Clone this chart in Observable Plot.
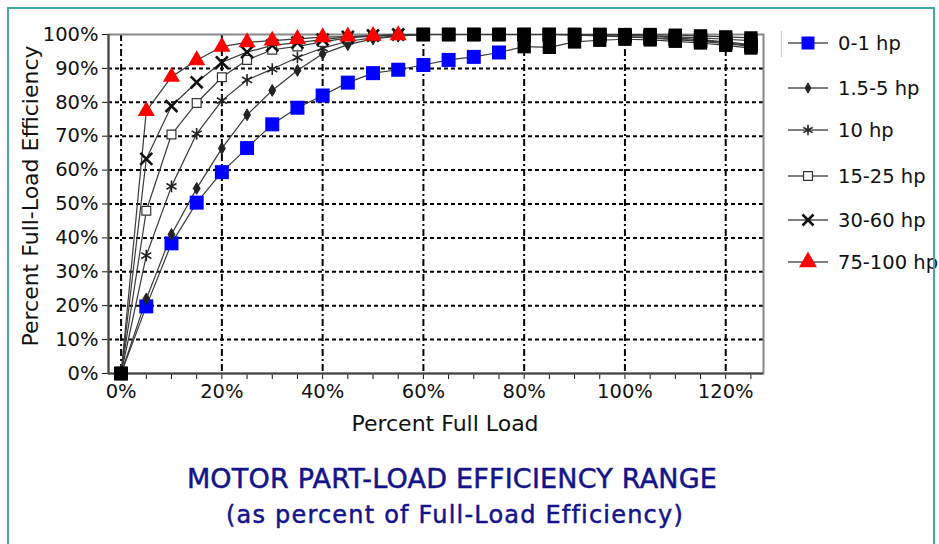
<!DOCTYPE html>
<html><head><meta charset="utf-8">
<script src="https://cdn.jsdelivr.net/npm/d3@7"></script>
<script src="https://cdn.jsdelivr.net/npm/@observablehq/plot@0.6"></script>
<style>
body{margin:0;background:#fff;width:939px;height:544px;overflow:hidden;position:relative;font-family:"DejaVu Sans",sans-serif;}
#chart{position:absolute;left:0;top:0}
#border{position:absolute;left:7px;top:7px;width:924px;height:620px;border:2.5px solid #4aa5a5;pointer-events:none}
#legend{position:absolute;left:0;top:0;width:939px;height:300px}
.lg{position:absolute;height:30px;display:flex;align-items:center;font-size:19.5px;color:#111;white-space:nowrap}
.lg svg{margin-right:8px}
#legendEdge{position:absolute;left:781px;top:31px;width:0;height:26px;border-left:1.5px solid #ccc}
#ylab{position:absolute;left:31px;top:196px;transform:translate(-50%,-50%) rotate(-90deg);font-size:22px;color:#111;white-space:nowrap;line-height:1}
.title{position:absolute;transform:translateX(-50%);white-space:nowrap;color:#14148a;line-height:1;-webkit-text-stroke:0.5px #14148a}
#t1{left:452px;top:465px;font-size:27px;letter-spacing:0.2px}
#t2{left:455px;top:503px;font-size:24px;letter-spacing:1.2px}
</style></head><body>
<div id="chart"></div>
<div id="ylab">Percent Full-Load Efficiency</div>
<div id="legend"><div id="legendEdge"></div></div>
<div class="title" id="t1">MOTOR PART-LOAD EFFICIENCY RANGE</div>
<div class="title" id="t2">(as percent of Full-Load Efficiency)</div>
<div id="border"></div>
<script>
// ---- data ----
const loads = [0,5,10,15,20,25,30,35,40,45,50,55,60,65,70,75,80,85,90,95,100,105,110,115,120,125];
const seriesNames = ["0-1 hp","1.5-5 hp","10 hp","15-25 hp","30-60 hp","75-100 hp"];
const eff_0_1   = [0,19.8,38.4,50.4,59.4,66.5,73.5,78.4,82.0,85.8,88.6,89.6,91.0,92.5,93.4,94.7,96.4,96.2,97.8,98.3,98.6,98.4,98.0,97.5,96.8,96.0];
const eff_1_5_5 = [0,22.0,41.0,54.6,66.4,76.3,83.5,89.4,94.3,97.0,98.7,99.5,100,100,100,100,100,100,100,100,99.8,99.5,99.0,98.5,97.8,97.0];
const eff_10    = [0,34.8,55.2,70.7,80.5,86.6,89.8,93.2,96.0,98.0,99.0,99.6,100,100,100,100,100,100,99.8,99.6,99.3,99.0,98.6,98.2,97.6,96.8];
const eff_15_25 = [0,48.0,70.5,79.8,87.4,92.5,95.5,96.5,97.8,99.0,99.5,100,100,100,100,100,100,100,100,99.7,99.4,99.0,98.5,98.0,97.3,96.5];
const eff_30_60 = [0,63.3,78.9,85.9,91.8,94.8,96.8,97.6,98.5,99.3,99.7,100,100,100,100,100,100,100,100,100,99.8,99.6,99.3,99.0,98.6,98.2];
const eff_75_100= [0,77.4,87.5,92.4,96.4,97.7,98.2,98.7,99.2,99.4,99.6,99.8,100,100,100,100,100,100,100,100,100,100,99.8,99.6,99.3,99.0];
const seriesValues = [eff_0_1, eff_1_5_5, eff_10, eff_15_25, eff_30_60, eff_75_100];
// load from which each series' markers are drawn as black squares (and always at 0%)
const blackMarkerFrom = [80,60,60,60,60,60];
const yTicks = [0,10,20,30,40,50,60,70,80,90,100];
const yGrid = [10,20,30,40,50,60,70,80,90];
const xLabels = [0,20,40,60,80,100,120];

// ---- styles ----
const styles = [
  {symbol:"square",   r:7.9, fill:"#0000ff", stroke:"none", strokeWidth:1},
  {symbol:"diamond",  r:3.6, fill:"#222",    stroke:"#222", strokeWidth:1},
  {symbol:"asterisk", r:5.5, fill:"none",    stroke:"#222", strokeWidth:1.6},
  {symbol:"square",   r:5.0, fill:"#fff",    stroke:"#333", strokeWidth:1.2},
  {symbol:"times",    r:5.5, fill:"none",    stroke:"#111", strokeWidth:2.6},
  {symbol:"triangle", r:6.4, fill:"#ff0000", stroke:"none", strokeWidth:1}
];

const rows = [];
seriesNames.forEach((name,i)=>seriesValues[i].forEach((v,j)=>rows.push({
  series:name, idx:i, load:loads[j], eff:v,
  black: loads[j]===0 || loads[j]>=blackMarkerFrom[i]
})));

const marks = [
  Plot.ruleY(yGrid, {stroke:"#000", strokeWidth:2, strokeDasharray:"4,3"}),
  Plot.ruleX(xLabels, {stroke:"#000", strokeWidth:2, strokeDasharray:"7,3,2,3"}),
  Plot.frame({stroke:"#888", strokeWidth:2}),
  Plot.ruleX([-2.5], {stroke:"#444", strokeWidth:2}),
  Plot.ruleY([0], {stroke:"#444", strokeWidth:2}),
  Plot.line(rows, {x:"load", y:"eff", z:"series", stroke:"#3a3a3a", strokeWidth:1.2})
];
seriesNames.forEach((name,i)=>{
  const s = styles[i];
  marks.push(Plot.dot(rows.filter(d=>d.idx===i && !d.black), {
    x:"load", y:"eff", symbol:s.symbol, r:s.r, fill:s.fill, stroke:s.stroke, strokeWidth:s.strokeWidth
  }));
});
marks.push(Plot.dot(rows.filter(d=>d.black), {x:"load", y:"eff", symbol:"square", r:7.5, fill:"#000"}));
marks.push(Plot.text(["Percent Full Load"], {frameAnchor:"bottom", text:d=>d, dy:57, dx:9, fontSize:22, fill:"#111"}));

const chart = Plot.plot({
  width:939, height:445,
  marginLeft:108, marginRight:176, marginTop:34, marginBottom:72,
  style:{fontFamily:"DejaVu Sans, sans-serif", fontSize:"19.5px", color:"#111", background:"none", overflow:"visible"},
  x:{domain:[-2.5,127.5], ticks:loads, tickFormat:d=>xLabels.includes(d)?d+"%":"", tickSize:6, tickPadding:5, label:null},
  y:{domain:[0,100], ticks:yTicks, tickFormat:d=>d+"%", tickSize:6, tickPadding:4, label:null},
  marks
});
document.getElementById("chart").appendChild(chart);

// ---- legend ----
const legendY = [43,88,130,176,220,262];
const legendSizes = [169,30,80,80,80,140];
const legend = d3.select("#legend");
seriesNames.forEach((name,i)=>{
  const s = styles[i];
  const div = legend.append("div").attr("class","lg")
    .style("left","786px").style("top",(legendY[i]-15)+"px");
  const svg = div.append("svg").attr("width",44).attr("height",30);
  svg.append("line").attr("x1",2).attr("x2",42).attr("y1",15).attr("y2",15).attr("stroke","#555").attr("stroke-width",1.4);
  const symType = {square:d3.symbolSquare, diamond:d3.symbolDiamond, asterisk:d3.symbolAsterisk, times:d3.symbolTimes, triangle:d3.symbolTriangle}[s.symbol];
  svg.append("path").attr("d", d3.symbol(symType, legendSizes[i])()).attr("transform","translate(22,15)")
    .attr("fill", s.fill).attr("stroke", s.stroke).attr("stroke-width", s.strokeWidth);
  div.append("span").text(name);
});
</script>
</body></html>
